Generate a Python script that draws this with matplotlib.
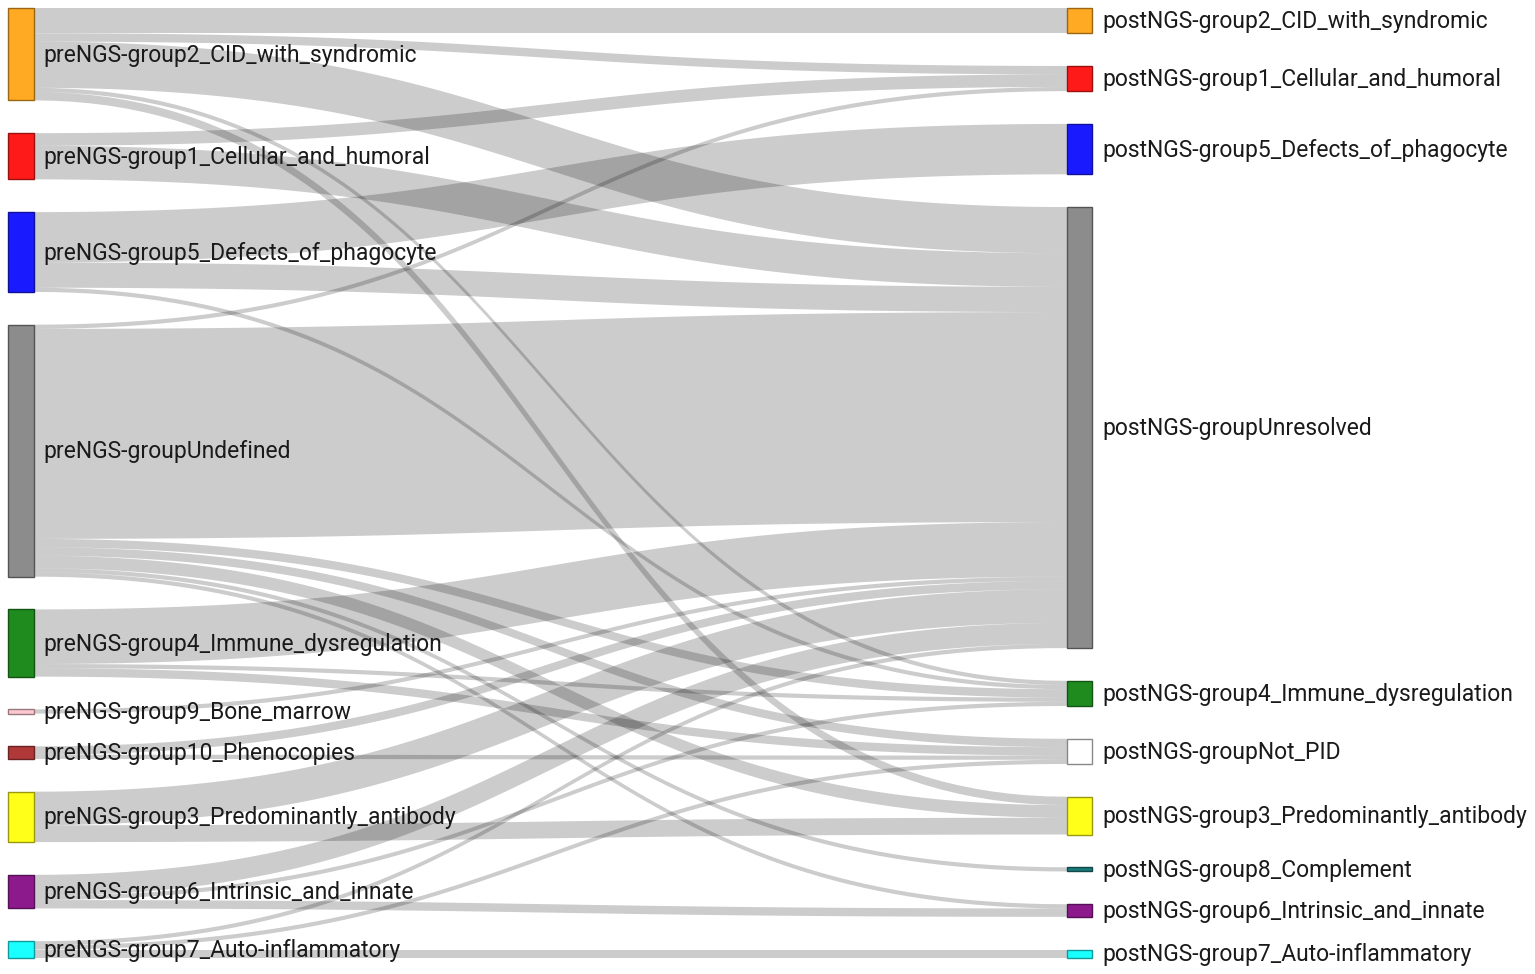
import numpy as np
import matplotlib.pyplot as plt
from matplotlib.patches import Rectangle, Polygon

plt.rcParams['font.family'] = ['Roboto', 'DejaVu Sans']

## nodes (top to bottom)
left_nodes = ['preNGS-group2_CID_with_syndromic', 'preNGS-group1_Cellular_and_humoral',
              'preNGS-group5_Defects_of_phagocyte', 'preNGS-groupUndefined',
              'preNGS-group4_Immune_dysregulation', 'preNGS-group9_Bone_marrow',
              'preNGS-group10_Phenocopies', 'preNGS-group3_Predominantly_antibody',
              'preNGS-group6_Intrinsic_and_innate', 'preNGS-group7_Auto-inflammatory']
right_nodes = ['postNGS-group2_CID_with_syndromic', 'postNGS-group1_Cellular_and_humoral',
               'postNGS-group5_Defects_of_phagocyte', 'postNGS-groupUnresolved',
               'postNGS-group4_Immune_dysregulation', 'postNGS-groupNot_PID',
               'postNGS-group3_Predominantly_antibody', 'postNGS-group8_Complement',
               'postNGS-group6_Intrinsic_and_innate', 'postNGS-group7_Auto-inflammatory']

left_colors = ['#ffaa22', '#ff1a1a', '#1a1aff', '#8c8c8c', '#1f8b1f',
               '#ffc8d0', '#b03838', '#ffff1a', '#8c1a8c', '#1affff']
right_colors = ['#ffaa22', '#ff1a1a', '#1a1aff', '#8c8c8c', '#1f8b1f',
                '#ffffff', '#ffff1a', '#1a7a7a', '#8c1a8c', '#1affff']

## flows: source index (left), target index (right), patients
src = [0, 0, 0, 0, 0,
       1, 1,
       2, 2, 2,
       3, 3, 3, 3, 3, 3, 3,
       4, 4, 4,
       5,
       6, 6,
       7, 7,
       8, 8, 8,
       9, 9, 9]
tgt = [0, 1, 3, 4, 6,
       1, 3,
       2, 3, 4,
       1, 3, 4, 5, 6, 7, 8,
       3, 4, 5,
       3,
       3, 5,
       3, 6,
       3, 4, 8,
       3, 5, 9]
val = [6, 2, 11, 1, 2,
       3, 8,
       12, 6, 1,
       1, 50, 2, 2, 3, 1, 1,
       13, 1, 2,
       1,
       2, 1,
       8, 4,
       5, 1, 2,
       1, 1, 2]

## layout (pixels)
W, H = 1535, 974
top, bottom = 8, 958
lx0, lx1 = 8, 34
rx0, rx1 = 1067, 1092

n = len(left_nodes)
left_tot = np.zeros(n)
right_tot = np.zeros(n)
for s, t, v in zip(src, tgt, val):
    left_tot[s] += v
    right_tot[t] += v

scale = 4.2
pad = ((bottom - top) - left_tot.sum() * scale) / (n - 1)

def node_y(tot):
    ys = []
    y = top
    for v in tot:
        ys.append(y)
        y += v * scale + pad
    return np.array(ys)

left_y = node_y(left_tot)
right_y = node_y(right_tot)

## link offsets inside nodes
order = sorted(range(len(val)), key=lambda i: (src[i], tgt[i]))
s_off = {}
cur = left_y.copy()
for i in order:
    s_off[i] = cur[src[i]]
    cur[src[i]] += val[i] * scale
order = sorted(range(len(val)), key=lambda i: (tgt[i], src[i]))
t_off = {}
cur = right_y.copy()
for i in order:
    t_off[i] = cur[tgt[i]]
    cur[tgt[i]] += val[i] * scale

fig = plt.figure(figsize=(W / 100, H / 100), dpi=100)
ax = fig.add_axes([0, 0, 1, 1])
ax.set_xlim(0, W)
ax.set_ylim(H, 0)
ax.axis('off')

tt = np.linspace(0, 1, 80)
xm = (lx1 + rx0) / 2
bx = (1 - tt)**3 * lx1 + 3 * (1 - tt)**2 * tt * xm + 3 * (1 - tt) * tt**2 * xm + tt**3 * rx0
h = 3 * tt**2 - 2 * tt**3  # y weight of the bezier with flat ends

for i in range(len(val)):
    y0 = s_off[i]
    y1 = t_off[i]
    w = val[i] * scale
    top_edge = y0 + (y1 - y0) * h
    bot_edge = top_edge + w
    pts = np.concatenate([np.column_stack([bx, top_edge]),
                          np.column_stack([bx[::-1], bot_edge[::-1]])])
    ax.add_patch(Polygon(pts, closed=True, facecolor='black', alpha=0.2,
                         edgecolor='none', zorder=1))

def darker(c, f=0.6):
    c = np.array(plt.matplotlib.colors.to_rgb(c))
    return tuple(c * f)

for k in range(n):
    hl = left_tot[k] * scale
    ax.add_patch(Rectangle((lx0, left_y[k]), lx1 - lx0, hl, facecolor=left_colors[k],
                           edgecolor=darker(left_colors[k]), linewidth=1, zorder=2))
    ax.text(43, left_y[k] + hl / 2 + 1, left_nodes[k], fontsize=16.5, color='#1a1a1a',
            va='center', ha='left', zorder=3)
    hr = right_tot[k] * scale
    ec = '#888888' if right_colors[k] == '#ffffff' else darker(right_colors[k])
    ax.add_patch(Rectangle((rx0, right_y[k]), rx1 - rx0, hr, facecolor=right_colors[k],
                           edgecolor=ec, linewidth=1, zorder=2))
    ax.text(1102, right_y[k] + hr / 2 + 1, right_nodes[k], fontsize=16.5, color='#1a1a1a',
            va='center', ha='left', zorder=3)

fig.savefig('out.png', dpi=100)
